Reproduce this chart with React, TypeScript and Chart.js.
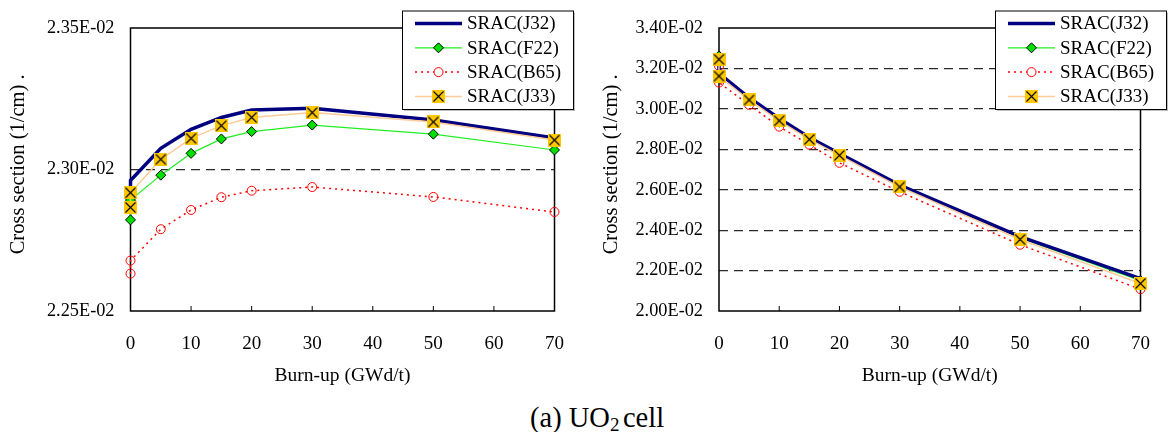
import React, { useEffect, useRef } from 'react';
import { Chart, registerables } from 'chart.js';

Chart.register(...registerables);

const SERIF = '"Liberation Serif", "Times New Roman", serif';

// ---------- data ----------
const burnup = [0, 0, 5, 10, 15, 20, 30, 50, 70];
const seriesNames = ['SRAC(J32)', 'SRAC(F22)', 'SRAC(B65)', 'SRAC(J33)'];

// left panel (1/cm)
const leftJ32 = [0.022915, 0.022961, 0.023075, 0.023142, 0.023184, 0.02321, 0.023216, 0.023175, 0.023111];
const leftF22 = [0.022822, 0.022892, 0.02298, 0.023057, 0.023108, 0.023134, 0.023157, 0.023125, 0.023069];
const leftB65 = [0.022632, 0.022678, 0.022789, 0.022857, 0.022902, 0.022925, 0.022938, 0.022903, 0.02285];
const leftJ33 = [0.022866, 0.022918, 0.023036, 0.02311, 0.023155, 0.023184, 0.023201, 0.023168, 0.023104];

// right panel (1/cm)
const rightJ32 = [0.0325, 0.03175, 0.03055, 0.02952, 0.02858, 0.02779, 0.02623, 0.02368, 0.0216];
const rightF22 = [0.03262, 0.03168, 0.0305, 0.02946, 0.02853, 0.02774, 0.02618, 0.02362, 0.0215];
const rightB65 = [0.03212, 0.0313, 0.0302, 0.02912, 0.02823, 0.02733, 0.0259, 0.02328, 0.02108];
const rightJ33 = [0.03245, 0.03162, 0.03044, 0.02941, 0.02849, 0.0277, 0.02614, 0.02354, 0.02136];

const xTicks = [0, 10, 20, 30, 40, 50, 60, 70];
const leftYTicks = [0.0225, 0.023, 0.0235];
const rightYTicks = [0.02, 0.022, 0.024, 0.026, 0.028, 0.03, 0.032, 0.034];

const xTitle = 'Burn-up (GWd/t)';
const yTitle = '  Cross section (1/cm) .';

const fmtE = (v: number) => (v * 100).toFixed(2) + 'E-02';

// ---------- styles ----------
function makeJ33Marker(size: number) {
  const c = document.createElement('canvas');
  c.width = size;
  c.height = size;
  const g = c.getContext('2d')!;
  g.fillStyle = '#FFC800';
  g.fillRect(0, 0, size, size);
  g.strokeStyle = '#000';
  g.lineWidth = 1.1;
  g.beginPath();
  g.moveTo(1.5, 1.5);
  g.lineTo(size - 1.5, size - 1.5);
  g.moveTo(size - 1.5, 1.5);
  g.lineTo(1.5, size - 1.5);
  g.stroke();
  return c;
}

type Style = {
  color: string;
  width: number;
  dash: number[];
  point: any;
  radius: number;
  bg: string;
  pb: string;
  order: number;
};

function getStyles(img: HTMLCanvasElement): Style[] {
  return [
    { color: '#000080', width: 3.5, dash: [], point: false, radius: 0, bg: '#000080', pb: '#000080', order: 1 },
    { color: '#22EE22', width: 1.2, dash: [], point: 'rectRot', radius: 5, bg: '#00E000', pb: '#000', order: 2 },
    { color: '#FF0000', width: 1.5, dash: [2, 4], point: 'circle', radius: 4.5, bg: 'rgba(0,0,0,0)', pb: '#FF0000', order: 3 },
    { color: '#FFCC99', width: 1.5, dash: [], point: img, radius: 7, bg: '#FFC800', pb: '#000', order: 0 },
  ];
}

type Geo = {
  plotLeft: number;
  rightPad: number;
  yTitlePad: number;
  legendLeft: number;
};

function drawLegendMarker(ctx: CanvasRenderingContext2D, s: Style, x: number, y: number, img: HTMLCanvasElement) {
  if (s.point === 'rectRot') {
    const r = s.radius;
    ctx.beginPath();
    ctx.moveTo(x, y - r);
    ctx.lineTo(x + r, y);
    ctx.lineTo(x, y + r);
    ctx.lineTo(x - r, y);
    ctx.closePath();
    ctx.fillStyle = s.bg;
    ctx.fill();
    ctx.strokeStyle = s.pb;
    ctx.lineWidth = 1;
    ctx.setLineDash([]);
    ctx.stroke();
  } else if (s.point === 'circle') {
    ctx.beginPath();
    ctx.arc(x, y, s.radius, 0, Math.PI * 2);
    ctx.fillStyle = '#fff';
    ctx.fill();
    ctx.strokeStyle = s.pb;
    ctx.lineWidth = 1;
    ctx.setLineDash([]);
    ctx.stroke();
  } else if (s.point) {
    ctx.drawImage(img, x - img.width / 2, y - img.height / 2);
  }
}

function makeConfig(series: number[][], yTicks: number[], geo: Geo): any {
  const img = makeJ33Marker(13);
  const styles = getStyles(img);
  const datasets = series.map((vals, i) => {
    const s = styles[i];
    return {
      label: seriesNames[i],
      data: burnup.map((b, k) => ({ x: b, y: vals[k] })),
      borderColor: s.color,
      borderWidth: s.width,
      borderDash: s.dash,
      backgroundColor: s.bg,
      pointStyle: s.point,
      pointRadius: s.radius,
      pointBackgroundColor: s.bg,
      pointBorderColor: s.pb,
      pointBorderWidth: 1,
      tension: 0,
      fill: false,
      clip: false,
      order: s.order,
    };
  });

  const framePlugin = {
    id: 'frame',
    beforeDatasetsDraw(chart: any) {
      const { ctx, chartArea: a, scales } = chart;
      ctx.save();
      ctx.strokeStyle = '#000';
      ctx.lineWidth = 1.5;
      ctx.setLineDash([]);
      ctx.strokeRect(a.left, a.top, a.right - a.left, a.bottom - a.top);
      ctx.beginPath();
      xTicks.forEach((t) => {
        if (t === xTicks[0] || t === xTicks[xTicks.length - 1]) return;
        const px = scales.x.getPixelForValue(t);
        ctx.moveTo(px, a.bottom);
        ctx.lineTo(px, a.bottom - 5);
      });
      ctx.lineWidth = 1;
      ctx.stroke();
      ctx.restore();
    },
    afterDraw(chart: any) {
      const { ctx } = chart;
      const L = geo.legendLeft;
      const top = 10.5;
      const w = 171;
      const h = 98.5;
      ctx.save();
      ctx.fillStyle = 'rgba(0,0,0,0.25)';
      ctx.fillRect(L + 2, top + 2, w, h);
      ctx.fillStyle = '#fff';
      ctx.fillRect(L, top, w, h);
      ctx.strokeStyle = '#000';
      ctx.lineWidth = 1;
      ctx.setLineDash([]);
      ctx.strokeRect(L + 0.5, top + 0.5, w, h);
      styles.forEach((s, i) => {
        const y = top + 13 + i * 24.3;
        ctx.beginPath();
        ctx.strokeStyle = s.color;
        ctx.lineWidth = s.width;
        ctx.setLineDash(s.dash);
        ctx.moveTo(L + 13, y);
        ctx.lineTo(L + 60, y);
        ctx.stroke();
        drawLegendMarker(ctx, s, L + 36.5, y, img);
        ctx.setLineDash([]);
        ctx.fillStyle = '#000';
        ctx.font = `19px ${SERIF}`;
        ctx.textBaseline = 'middle';
        ctx.textAlign = 'left';
        ctx.fillText(seriesNames[i], L + 65, y + 1);
      });
      ctx.restore();
    },
  };

  return {
    type: 'line',
    data: { datasets },
    plugins: [framePlugin],
    options: {
      animation: false,
      responsive: false,
      devicePixelRatio: 1,
      layout: { padding: { left: 0, right: geo.rightPad, top: 28, bottom: 0 } },
      plugins: { legend: { display: false }, tooltip: { enabled: false } },
      scales: {
        x: {
          type: 'linear',
          min: 0,
          max: 70,
          afterBuildTicks: (s: any) => {
            s.ticks = xTicks.map((v) => ({ value: v }));
          },
          afterFit: (s: any) => {
            s.height = 89;
          },
          grid: { display: false, drawTicks: false },
          border: { display: false },
          ticks: {
            color: '#000',
            font: { family: SERIF, size: 19 },
            padding: 22,
            maxRotation: 0,
            autoSkip: false,
          },
          title: {
            display: true,
            text: xTitle,
            color: '#000',
            font: { family: SERIF, size: 19.5 },
            padding: { top: 0, bottom: 12 },
          },
        },
        y: {
          type: 'linear',
          min: yTicks[0],
          max: yTicks[yTicks.length - 1],
          afterBuildTicks: (s: any) => {
            s.ticks = yTicks.map((v) => ({ value: v }));
          },
          afterFit: (s: any) => {
            s.width = geo.plotLeft;
          },
          grid: {
            drawTicks: false,
            lineWidth: 1.2,
            color: (c: any) =>
              c.index === 0 || c.index === yTicks.length - 1 ? 'rgba(0,0,0,0)' : '#2a2a2a',
          },
          border: { display: false, dash: [9, 6] },
          ticks: {
            color: '#000',
            font: { family: SERIF, size: 18.3 },
            padding: 16,
            autoSkip: false,
            callback: (v: any) => fmtE(Number(v)),
          },
          title: {
            display: true,
            text: yTitle,
            color: '#000',
            font: { family: SERIF, size: 20.5 },
            padding: { top: geo.yTitlePad, bottom: 0 },
          },
        },
      },
    },
  };
}

function Panel(props: { series: number[][]; yTicks: number[]; geo: Geo; left: number }) {
  const ref = useRef<HTMLCanvasElement>(null);
  useEffect(() => {
    if (!ref.current) return;
    const chart = new Chart(ref.current, makeConfig(props.series, props.yTicks, props.geo));
    return () => chart.destroy();
  }, []);
  return (
    <canvas
      ref={ref}
      width={586}
      height={400}
      style={{ position: 'absolute', left: props.left, top: 0, width: 586, height: 400 }}
    />
  );
}

export default function App() {
  return (
    <div
      style={{
        position: 'fixed',
        left: 0,
        top: 0,
        width: 1172,
        height: 432,
        background: '#fff',
        overflow: 'hidden',
      }}
    >
      <Panel
        series={[leftJ32, leftF22, leftB65, leftJ33]}
        yTicks={leftYTicks}
        geo={{ plotLeft: 130.5, rightPad: 24, yTitlePad: 6, legendLeft: 402 }}
        left={0}
      />
      <Panel
        series={[rightJ32, rightF22, rightB65, rightJ33]}
        yTicks={rightYTicks}
        geo={{ plotLeft: 133, rightPad: 17, yTitlePad: 13.7, legendLeft: 409 }}
        left={586}
      />
      <div
        style={{
          position: 'absolute',
          left: 530,
          top: 403,
          fontFamily: SERIF,
          fontSize: 28.5,
          lineHeight: '30px',
          color: '#000',
          whiteSpace: 'nowrap',
        }}
      >
        (a) UO<sub style={{ fontSize: 19, verticalAlign: '-4px', lineHeight: 0 }}>2</sub>
        <span style={{ fontSize: 14 }}> </span>cell
      </div>
    </div>
  );
}
